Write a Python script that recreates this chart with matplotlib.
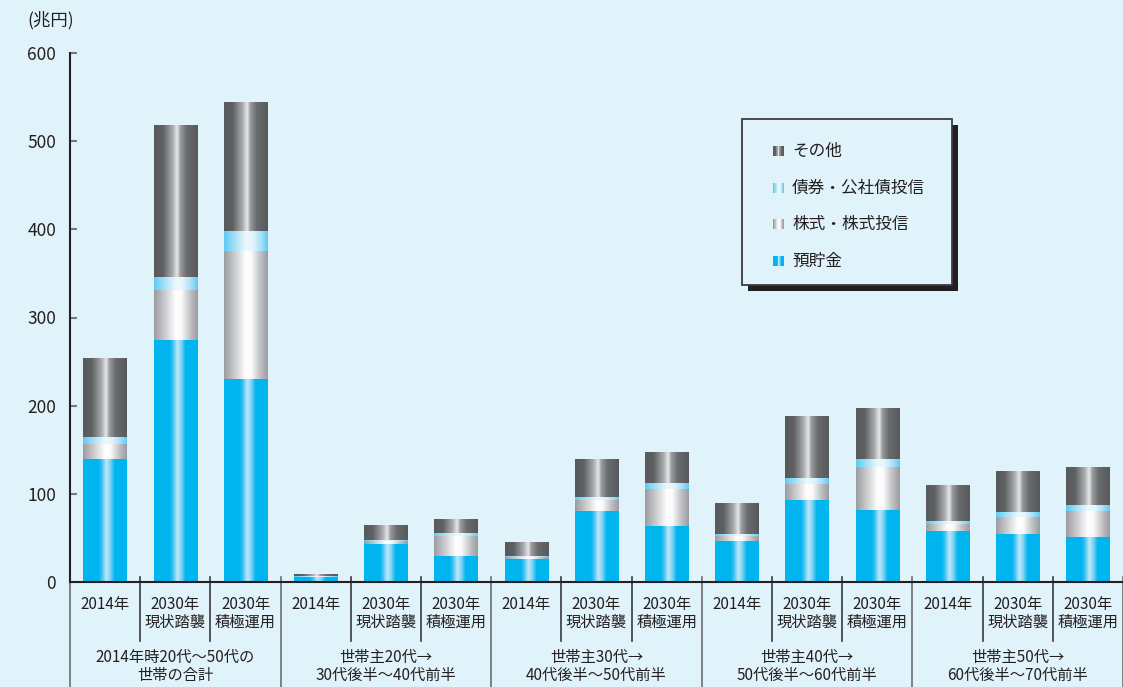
import numpy as np
import matplotlib
matplotlib.use("Agg")
import matplotlib.pyplot as plt
from matplotlib.colors import to_rgb
from matplotlib.patches import Rectangle

plt.rcParams['font.family'] = ['Noto Sans CJK JP', 'DejaVu Sans']

# ---- data ----
year_labels = ["2014年", "2030年\n現状踏襲", "2030年\n積極運用"] * 5
group_labels = ["2014年時20代〜50代の\n世帯の合計",
                "世帯主20代→\n30代後半〜40代前半",
                "世帯主30代→\n40代後半〜50代前半",
                "世帯主40代→\n50代後半〜60代前半",
                "世帯主50代→\n60代後半〜70代前半"]
series_names = ["預貯金", "株式・株式投信", "債券・公社債投信", "その他"]
deposits = [140, 275, 230, 5.3, 43.5, 30, 26, 81, 64, 46.5, 93, 82, 58, 54.5, 51]
stocks = [17, 56, 145, 0.7, 3.4, 22.6, 2.6, 12.5, 42, 6, 18, 48.5, 8, 19, 29.5]
bonds = [7, 15, 23, 0.3, 1.1, 3, 0.4, 2.5, 6, 2.3, 7, 9, 3, 6, 7]
others = [89, 172, 146, 1.7, 16.8, 14.9, 15.5, 42.5, 34.5, 35, 70, 57, 40, 46, 43]
yticks = [0, 100, 200, 300, 400, 500, 600]
unit_label = "(兆円)"

# ---- styles ----
BG = '#e1f3fa'
TXT = '#231f20'
gradients = {
    "預貯金": [(0, '#00b5ef'), (0.36, '#00b5ef'), (0.43, '#3fc2f2'), (0.53, '#bfe7f9'),
              (0.62, '#80d4f5'), (0.72, '#00b5ef'), (1, '#00b5ef')],
    "株式・株式投信": [(0, '#9a9b9f'), (0.3, '#d6d7d9'), (0.5, '#ffffff'), (0.62, '#fbfbfb'),
                (0.82, '#c2c3c6'), (1, '#9a9b9f')],
    "債券・公社債投信": [(0, '#5ccbf3'), (0.3, '#b6e6f9'), (0.5, '#eef8fd'), (0.65, '#e6f5fc'),
                  (0.85, '#a5dff7'), (1, '#5ccbf3')],
    "その他": [(0, '#58595b'), (0.2, '#5f6062'), (0.42, '#a9aaad'), (0.53, '#e6e7e8'),
            (0.6, '#9a9b9e'), (0.75, '#6a6b6e'), (1, '#58595b')],
}


def grad_array(stops, n=256):
    pos = np.array([s[0] for s in stops])
    cols = np.array([to_rgb(s[1]) for s in stops])
    xs = np.linspace(0, 1, n)
    arr = np.stack([np.interp(xs, pos, cols[:, k]) for k in range(3)], axis=-1)
    return arr[np.newaxis, :, :]


W, H = 1123, 687
fig = plt.figure(figsize=(W / 100, H / 100), dpi=100, facecolor=BG)
ax_left, ax_bottom = 70 / W, (H - 582) / H
ax_top = (H - 53) / H
ax = fig.add_axes([ax_left, ax_bottom, 1 - ax_left, ax_top - ax_bottom])
ax.set_facecolor(BG)

x = np.arange(len(deposits))
bottom = np.zeros(len(deposits))
series_vals = [deposits, stocks, bonds, others]
for name, vals in zip(series_names, series_vals):
    bars = ax.bar(x, vals, width=0.62, bottom=bottom, color='none', linewidth=0, zorder=2)
    g = grad_array(gradients[name])
    for p in bars.patches:
        x0, y0 = p.get_x(), p.get_y()
        w, h = p.get_width(), p.get_height()
        if h <= 0:
            continue
        ax.imshow(g, extent=[x0, x0 + w, y0, y0 + h], aspect='auto',
                  interpolation='bilinear', zorder=2)
    bottom = bottom + np.array(vals)

ax.set_xlim(-0.5, len(deposits) - 0.5)
ax.set_ylim(0, 600)
ax.set_yticks(yticks)
ax.set_yticklabels([str(v) for v in yticks], fontsize=12.5, color=TXT)
ax.tick_params(axis='y', direction='in', length=5, width=1.5, color='#77787b', pad=10)
ax.tick_params(axis='x', length=0, labelbottom=False)
for s in ['top', 'right']:
    ax.spines[s].set_visible(False)
for s in ['left', 'bottom']:
    ax.spines[s].set_color(TXT)
    ax.spines[s].set_linewidth(1.5)
ax.spines['bottom'].set_zorder(5)

# category table below axis
axh = 582 - 53
tr = ax.get_xaxis_transform()
for i, lab in enumerate(year_labels):
    ax.text(i, -(596 - 582) / axh, lab, transform=tr, ha='center', va='top',
            fontsize=11, color=TXT, linespacing=1.05)
for gi, lab in enumerate(group_labels):
    ax.text(gi * 3 + 1, -(649 - 582) / axh, lab, transform=tr, ha='center', va='top',
            fontsize=11, color=TXT, linespacing=1.05)
for i in range(len(year_labels) + 1):
    xs = i - 0.5
    if i % 3 == 0:
        ax.plot([xs, xs], [5 / axh, -(H - 582) / axh], transform=tr, color='#6d6e71',
                lw=1.2, clip_on=False, zorder=1)
    else:
        ax.plot([xs, xs], [5 / axh, -(641 - 582) / axh], transform=tr, color='#3a3a3c',
                lw=1.2, clip_on=False, zorder=1)

# overlay in pixel coords for unit label and legend
ov = fig.add_axes([0, 0, 1, 1], zorder=10)
ov.set_xlim(0, W)
ov.set_ylim(H, 0)
ov.axis('off')
ov.patch.set_alpha(0)
ov.text(51, 20, unit_label, ha='center', va='center', fontsize=12.5, color=TXT)

bx, by, bw, bh = 742, 119, 210, 166
ov.add_patch(Rectangle((bx + 6, by + 6), bw, bh, facecolor='#231f20', edgecolor='none'))
ov.add_patch(Rectangle((bx, by), bw, bh, facecolor=BG, edgecolor='#3c3c3e', lw=1.3))
rows_y = [151, 188, 224, 261]
for name, yy in zip(series_names[::-1], rows_y):
    ov.imshow(grad_array(gradients[name], 16), extent=[773, 784, yy + 5, yy - 5],
              aspect='auto', interpolation='nearest', zorder=11)
    ov.text(792, yy, name, ha='left', va='center', fontsize=12, color=TXT, zorder=11)
ov.set_xlim(0, W)
ov.set_ylim(H, 0)

fig.savefig('out.png', dpi=100, facecolor=BG)
